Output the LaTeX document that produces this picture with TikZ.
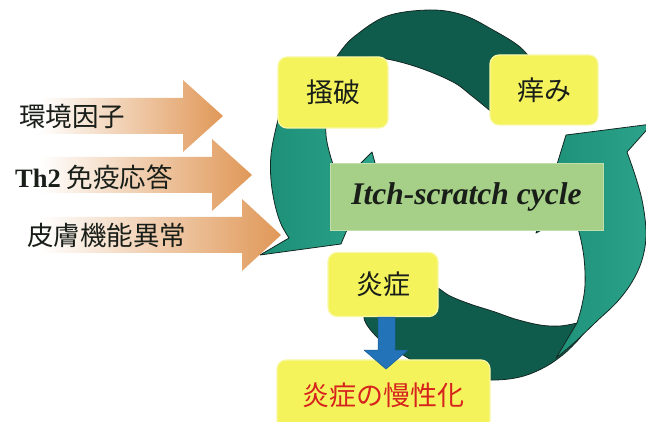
\documentclass[tikz,border=0pt]{standalone}
\usepackage{fontspec}
\setmainfont{Liberation Serif}
\newfontfamily\jp{Noto Sans CJK JP}
\usetikzlibrary{calc}
\definecolor{boxyellow}{RGB}{244,243,92}
\definecolor{boxgreen}{RGB}{166,208,136}
\definecolor{tealL}{RGB}{32,158,132}
\definecolor{tealD}{RGB}{16,92,76}
\definecolor{edgec}{RGB}{20,40,35}
\definecolor{orng}{RGB}{224,152,88}
\definecolor{pinkish}{RGB}{240,210,192}
\definecolor{blueL}{RGB}{80,175,225}
\definecolor{blueD}{RGB}{35,115,185}
\definecolor{redtext}{RGB}{215,35,30}
\definecolor{darktext}{RGB}{25,30,25}
\begin{document}
\begin{tikzpicture}[x=1pt,y=-1pt,
  ybox/.style={rectangle, rounded corners=9pt, fill=boxyellow, draw=boxyellow!55!white, line width=1.2pt, font=\jp\fontsize{27}{30}\selectfont, text=darktext, inner sep=0pt},
  darkband/.style={fill=tealD, draw=edgec, line width=0.8pt, line join=round},
  lightband/.style={left color=tealL!90!black, right color=tealL!95!white, draw=edgec, line width=0.8pt, line join=round},
  inarrow/.style={left color=white, middle color=pinkish, right color=orng, draw=none},
  lbl/.style={anchor=west, font=\jp\fontsize{26.5}{30}\selectfont, text=darktext, inner sep=0pt},
  bluearrow/.style={left color=blueD, middle color=blueL, right color=blueD, draw=blueD!80!black, line width=0.5pt},
]
\useasboundingbox (0,0) rectangle (646,422);
\clip (0,0) rectangle (646,422);

% ring: dark (back) parts
\path[darkband] plot[smooth, tension=0.6] coordinates {(333,64) (340,52) (355,36) (387,16) (430,10) (463,15) (493,30) (520,47) (536,66)} -- (540,100) -- plot[smooth, tension=0.6] coordinates {(494,114) (472,96) (453,82) (420,68) (387,59) (360,57) (343,58) (333,64)} -- cycle;
\path[darkband] plot[smooth, tension=0.6] coordinates {(372,300) (364,318) (378,338) (400,353) (425,367) (455,376) (490,380) (520,377) (545,367) (565,353) (580,338)} -- (590,322) -- plot[smooth, tension=0.6] coordinates {(577,323) (560,326) (540,325) (515,319) (495,312) (470,304) (450,296) (438,288) (420,278)} -- cycle;

% ring: light (front) parts with heads
\path[lightband] plot[smooth, tension=0.6] coordinates {(300,70) (284,100) (276,128) (271,155) (271,180) (275,205) (281,224) (289,238)} -- (260,255) -- (341,244) -- (375,163) -- (372,152) -- (360,164) -- (337,174) -- plot[smooth, tension=0.6] coordinates {(337,174) (331,158) (326,135) (327,110) (335,80) (345,65)} -- cycle;
\path[lightband] plot[smooth, tension=0.6] coordinates {(556,358) (575,342) (597,321) (617,302) (632,282) (642,260) (646,235) (643,205) (636,178) (627,152)} -- (652,124) -- (566,135) -- (536,233) -- (572,214) -- plot[smooth, tension=0.6] coordinates {(572,214) (579,232) (584,258) (585,285) (582,305) (577,323)} -- cycle;

% incoming orange arrows
\foreach \c/\h/\t in {116/183/223, 175/212/252, 235/242/281} {
  \path[inarrow] (40,\c-18) -- (\h,\c-18) -- (\h,\c-36) -- (\t,\c) -- (\h,\c+36) -- (\h,\c+18) -- (40,\c+18) -- cycle;
}
\node[lbl] (env) at (19,116) {環境因子};
\node[lbl] (th2) at (15,177) {{\rmfamily\bfseries Th2} 免疫応答};
\node[lbl] (skin) at (27,235) {皮膚機能異常};

% central label
\node[rectangle, fill=boxgreen, draw=boxgreen!70!white, line width=0.8pt, minimum width=273, minimum height=67, inner sep=0pt, text=darktext, font=\fontsize{31.5}{34}\selectfont\bfseries\itshape] (cyc) at (466.5,196.5) {Itch-scratch cycle};

% yellow boxes
\node[ybox, minimum width=110, minimum height=71] (sk) at (333,92.5) {掻破};
\node[ybox, minimum width=108, minimum height=70] (itch) at (544,90) {痒み};
\node[ybox, minimum width=110, minimum height=64] (yan) at (383,284.5) {炎症};
\node[ybox, minimum width=213, minimum height=70, text=redtext] (chr) at (383.5,395) {炎症の慢性化};

% blue arrow
\path[bluearrow] ($(yan.south)+(-5,0)$) -- ($(yan.south)+(12,0)$) -- ($(yan.south)+(12,33)$) -- ($(yan.south)+(25,33)$) -- ($(yan.south)+(3,52)$) -- ($(yan.south)+(-19,33)$) -- ($(yan.south)+(-5,33)$) -- cycle;
\end{tikzpicture}
\end{document}
